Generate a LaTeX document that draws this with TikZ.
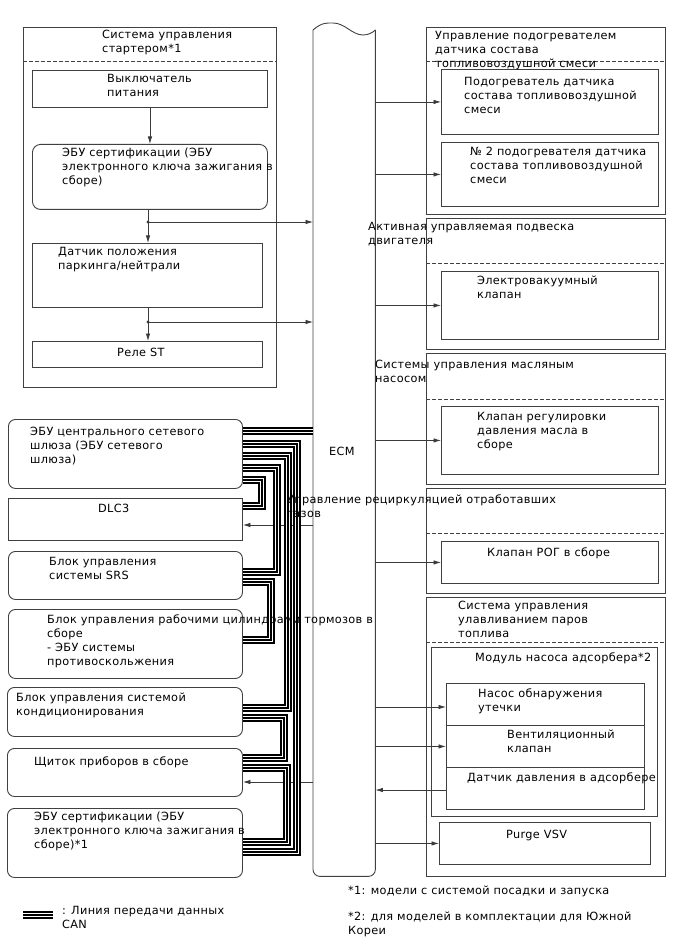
\documentclass[tikz,border=0pt]{standalone}
\usepackage{fontspec}
\setmainfont{DejaVu Sans}[LetterSpace=3]
\usetikzlibrary{arrows.meta,calc}
\definecolor{boxgray}{HTML}{404040}
\definecolor{wiregray}{HTML}{3A3A3A}
\tikzset{
  blk/.style  = {rectangle, draw=boxgray, line width=0.9pt, anchor=north west, inner sep=0pt},
  rblk/.style = {blk, rounded corners=7pt},
  lbl/.style  = {anchor=north west, inner sep=0pt, yshift=9.8pt, align=left,
                 font=\fontsize{11.3}{14}\selectfont, execute at begin node=\strut},
  sig/.style  = {-{Latex[length=7.5pt,width=4.5pt]}, line width=0.8pt, draw=wiregray},
  sep/.style  = {draw=boxgray, line width=0.7pt, dash pattern=on 4pt off 2pt},
  can/.style  = {draw=white, line width=4.4pt, line join=miter,
                 preaction={draw=black, line width=7.6pt},
                 postaction={draw=black, line width=1.8pt}},
}
\begin{document}
\begin{tikzpicture}[x=1pt, y=-1pt]
  \useasboundingbox (0,0) rectangle (688,949);

  % starter control group
  \node[blk, minimum width=253pt, minimum height=360pt] (stgrp) at (23,27) {};
  \node[blk, minimum width=235pt, minimum height=37pt] (pwr) at (32,70) {};
  \node[rblk, minimum width=235pt, minimum height=65pt, rounded corners=8pt] (cert1) at (32,144) {};
  \node[blk, minimum width=230pt, minimum height=64pt] (park) at (32,243) {};
  \node[blk, minimum width=230pt, minimum height=26pt] (relay) at (32,341) {};
  \draw[sep] (stgrp.west |- 0,61) -- (stgrp.east |- 0,61);

  % ECM column
  \node[anchor=north west, inner sep=0pt, minimum width=62pt, minimum height=846pt] (ecm) at (313,30) {};
  \draw[draw=boxgray, line width=0.9pt] (ecm.north west) .. controls (322,22) and (328,23) .. (333,23)
    .. controls (345,23) and (352,35) .. (363,35) .. controls (368,35) and (372,33) .. (ecm.north east);
  \draw[draw=boxgray, line width=0.9pt, rounded corners=7pt] (ecm.north east) -- (ecm.south east)
    -- (ecm.south west) -- (ecm.north west);

  % right side groups
  \node[blk, minimum width=239pt, minimum height=187pt] (htgrp) at (426,27) {};
  \node[blk, minimum width=217pt, minimum height=65pt] (ht1) at (441,69) {};
  \node[blk, minimum width=217pt, minimum height=64pt] (ht2) at (441,142) {};
  \draw[sep] (htgrp.west |- 0,61) -- (htgrp.east |- 0,61);

  \node[blk, minimum width=239pt, minimum height=131pt] (mtgrp) at (426,218) {};
  \node[blk, minimum width=217pt, minimum height=68pt] (vac) at (441,271) {};
  \draw[sep] (mtgrp.west |- 0,263) -- (mtgrp.east |- 0,263);

  \node[blk, minimum width=239pt, minimum height=131pt] (oilgrp) at (426,353) {};
  \node[blk, minimum width=217pt, minimum height=68pt] (oil) at (441,406) {};
  \draw[sep] (oilgrp.west |- 0,399) -- (oilgrp.east |- 0,399);

  \node[blk, minimum width=239pt, minimum height=105pt] (egrgrp) at (426,488) {};
  \node[blk, minimum width=217pt, minimum height=42pt] (egr) at (441,541) {};
  \draw[sep] (egrgrp.west |- 0,533) -- (egrgrp.east |- 0,533);

  \node[blk, minimum width=239pt, minimum height=279pt] (evgrp) at (426,597) {};
  \node[blk, minimum width=226pt, minimum height=169pt] (pmod) at (431,647) {};
  \node[blk, minimum width=198pt, minimum height=42pt] (leak) at (446,683) {};
  \node[blk, minimum width=198pt, minimum height=42pt] (vent) at (446,725) {};
  \node[blk, minimum width=198pt, minimum height=42pt] (press) at (446,767) {};
  \node[blk, minimum width=211pt, minimum height=42pt] (vsv) at (439,822) {};
  \draw[sep] (evgrp.west |- 0,642) -- (evgrp.east |- 0,642);

  % left side units on CAN
  \node[rblk, minimum width=234pt, minimum height=69pt] (gw) at (8,419) {};
  \node[blk, minimum width=234pt, minimum height=42pt] (dlc) at (8,498) {};
  \node[rblk, minimum width=234pt, minimum height=48pt] (srs) at (8,551) {};
  \node[rblk, minimum width=234pt, minimum height=69pt] (brk) at (8,609) {};
  \node[rblk, minimum width=235pt, minimum height=49pt] (ac) at (7,687) {};
  \node[rblk, minimum width=235pt, minimum height=48pt] (mtr) at (7,748) {};
  \node[rblk, minimum width=235pt, minimum height=69pt] (cert2) at (7,808) {};

  % signal lines
  \draw[sig] (pwr.south) -- (pwr.south |- cert1.north);
  \coordinate (j1) at (148,222);
  \coordinate (j2) at (148,322);
  \draw[sig] (cert1.south -| j1) -- (j1 |- park.north);
  \draw[sig] (park.south -| j2) -- (j2 |- relay.north);
  \fill[wiregray] (j1) circle (1.7pt) (j2) circle (1.7pt);
  \draw[sig] (j1) -- (j1 -| ecm.west);
  \draw[sig] (j2) -- (j2 -| ecm.west);

  \draw[sig] (ecm.east |- ht1.west) -- (ht1.west);
  \draw[sig] (ecm.east |- ht2.west) -- (ht2.west);
  \draw[sig] (ecm.east |- vac.west) -- (vac.west);
  \draw[sig] (ecm.east |- oil.west) -- (oil.west);
  \draw[sig] (ecm.east |- egr.west) -- (egr.west);
  \draw[sig] (ecm.east |- 0,707) -- (leak.west |- 0,707);
  \draw[sig] (ecm.east |- vent.west) -- (vent.west);
  \draw[sig] (press.west |- 0,790) -- (ecm.east |- 0,790);
  \draw[sig] (ecm.east |- vsv.west) -- (vsv.west);
  \draw[sig] (ecm.west |- 0,525) -- (dlc.east |- 0,525);
  \draw[sig] (ecm.west |- 0,782) -- (mtr.east |- 0,782);

  % CAN bus
  \draw[can] (gw.east |- 0,431) -- (ecm.west |- 0,431);
  \draw[can] (gw.east |- 0,444) -- (297,444) -- (297,852) -- (cert2.east |- 0,852);
  \draw[can] (gw.east |- 0,456) -- (288,456) -- (288,708) -- (ac.east |- 0,708);
  \draw[can] (gw.east |- 0,468) -- (277,468) -- (277,572) -- (srs.east |- 0,572);
  \draw[can] (gw.east |- 0,480) -- (262,480) -- (262,506) -- (dlc.east |- 0,506);
  \draw[can] (srs.east |- 0,582) -- (271,582) -- (271,640) -- (brk.east |- 0,640);
  \draw[can] (ac.east |- 0,718) -- (284,718) -- (284,758) -- (mtr.east |- 0,758);
  \draw[can] (mtr.east |- 0,768) -- (287,768) -- (287,842) -- (cert2.east |- 0,842);

  % texts
  \node[lbl] (stgrp-t) at (102,40) {Система управления\\стартером*1};
  \node[lbl] (pwr-t) at (107,84) {Выключатель\\питания};
  \node[lbl] (cert1-t) at (62,158) {ЭБУ сертификации (ЭБУ\\электронного ключа зажигания в\\сборе)};
  \node[lbl] (park-t) at (58,257) {Датчик положения\\паркинга/нейтрали};
  \node[lbl] (relay-t) at (117,356) {Реле ST};
  \node[lbl] (ecm-t) at (329,455) {ECM};
  \node[lbl] (htgrp-t) at (435,41) {Управление подогревателем\\датчика состава\\топливовоздушной смеси};
  \node[lbl] (ht1-t) at (464,87) {Подогреватель датчика\\состава топливовоздушной\\смеси};
  \node[lbl] (ht2-t) at (470,157) {№ 2 подогревателя датчика\\состава топливовоздушной\\смеси};
  \node[lbl] (mtgrp-t) at (368,232) {Активная управляемая подвеска\\двигателя};
  \node[lbl] (vac-t) at (477,286) {Электровакуумный\\клапан};
  \node[lbl] (oilgrp-t) at (375,370) {Системы управления масляным\\насосом};
  \node[lbl] (oil-t) at (477,422) {Клапан регулировки\\давления масла в\\сборе};
  \node[lbl] (egrgrp-t) at (287,504) {Управление рециркуляцией отработавших\\газов};
  \node[lbl] (egr-t) at (487,556) {Клапан РОГ в сборе};
  \node[lbl] (evgrp-t) at (458,611) {Система управления\\улавливанием паров\\топлива};
  \node[lbl] (pmod-t) at (475,661) {Модуль насоса адсорбера*2};
  \node[lbl] (leak-t) at (478,698) {Насос обнаружения\\утечки};
  \node[lbl] (vent-t) at (507,740) {Вентиляционный\\клапан};
  \node[lbl] (press-t) at (467,781) {Датчик давления в адсорбере};
  \node[lbl] (vsv-t) at (506,838) {Purge VSV};
  \node[lbl] (gw-t) at (30,437) {ЭБУ центрального сетевого\\шлюза (ЭБУ сетевого\\шлюза)};
  \node[lbl] (dlc-t) at (98,512) {DLC3};
  \node[lbl] (srs-t) at (49,567) {Блок управления\\системы SRS};
  \node[lbl] (brk-t) at (47,624) {Блок управления рабочими цилиндрами тормозов в\\сборе\\- ЭБУ системы\\противоскольжения};
  \node[lbl] (ac-t) at (16,703) {Блок управления системой\\кондиционирования};
  \node[lbl] (mtr-t) at (34,765) {Щиток приборов в сборе};
  \node[lbl] (cert2-t) at (34,822) {ЭБУ сертификации (ЭБУ\\электронного ключа зажигания в\\сборе)*1};

  % legend and notes
  \coordinate (lgA) at (23,915);
  \coordinate (lgB) at (53,915);
  \draw[can] (lgA) -- (lgB);
  \node[lbl] (lg-t) at (62,916) {: Линия передачи данных\\CAN};
  \node[lbl] (fn1) at (348,894) {*1: модели с системой посадки и запуска};
  \node[lbl] (fn2) at (348,922) {*2: для моделей в комплектации для Южной\\Кореи};
\end{tikzpicture}
\end{document}
